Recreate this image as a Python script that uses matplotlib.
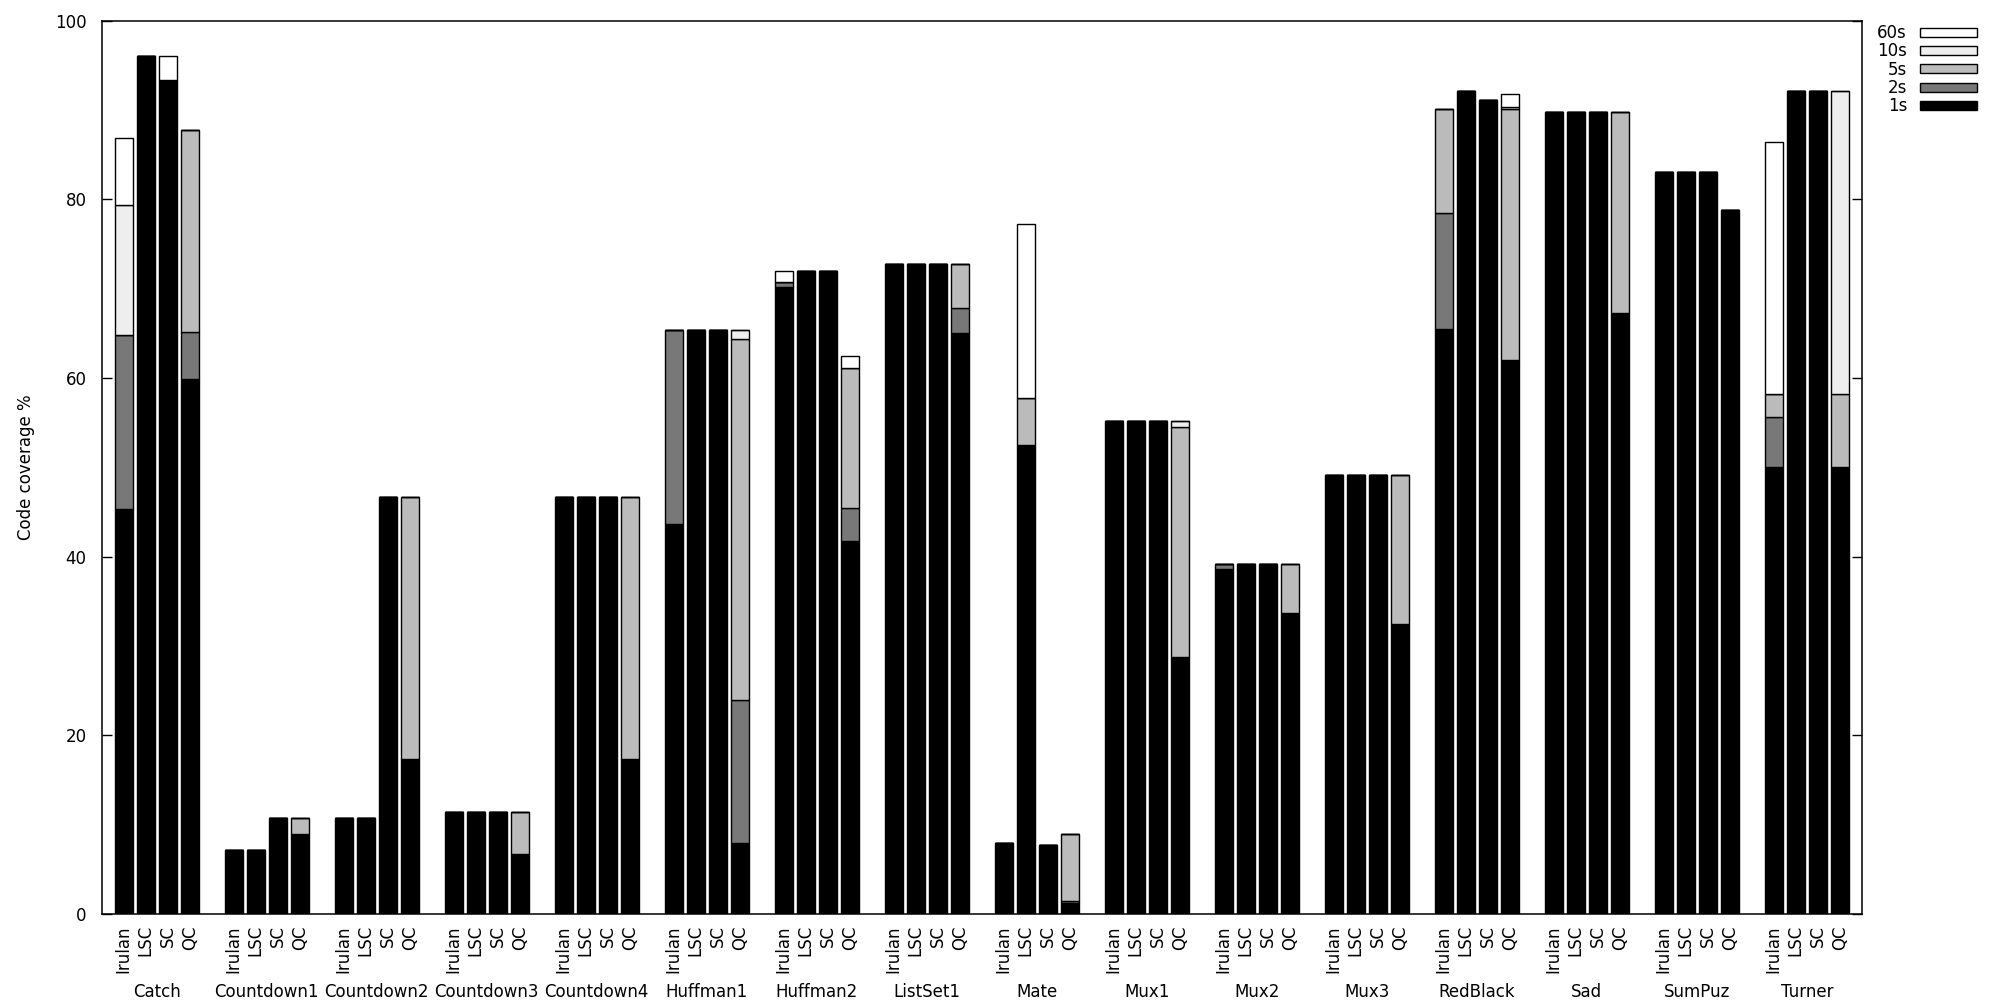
import numpy as np
import matplotlib

matplotlib.use("Agg")
import matplotlib.pyplot as plt
from matplotlib.transforms import blended_transform_factory

# Benchmarks and tools
groups = ["Catch", "Countdown1", "Countdown2", "Countdown3", "Countdown4",
          "Huffman1", "Huffman2", "ListSet1", "Mate", "Mux1", "Mux2", "Mux3",
          "RedBlack", "Sad", "SumPuz", "Turner"]
tools = ["Irulan", "LSC", "SC", "QC"]
limits = ["1s", "2s", "5s", "10s", "60s"]

# Coverage (%) reached within each time limit; one row per benchmark,
# columns in the order of `tools`
cov_1s = [
    [45.3, 96.0, 93.3, 59.9],
    [7.2, 7.2, 10.8, 8.9],
    [10.8, 10.8, 46.7, 17.3],
    [11.4, 11.4, 11.4, 6.7],
    [46.7, 46.7, 46.7, 17.3],
    [43.6, 65.4, 65.4, 8.0],
    [70.2, 72.0, 72.0, 41.7],
    [72.8, 72.8, 72.8, 65.0],
    [7.9, 52.5, 7.7, 1.2],
    [55.2, 55.2, 55.2, 28.8],
    [38.6, 39.2, 39.2, 33.7],
    [49.1, 49.1, 49.1, 32.5],
    [65.5, 92.1, 91.1, 62.0],
    [89.8, 89.8, 89.8, 67.3],
    [83.0, 83.0, 83.0, 78.8],
    [50.0, 92.1, 92.1, 50.0],
]
cov_2s = [
    [64.8, 96.0, 93.3, 65.1],
    [7.2, 7.2, 10.8, 8.9],
    [10.8, 10.8, 46.7, 17.3],
    [11.4, 11.4, 11.4, 6.7],
    [46.7, 46.7, 46.7, 17.3],
    [65.4, 65.4, 65.4, 24.0],
    [70.7, 72.0, 72.0, 45.4],
    [72.8, 72.8, 72.8, 67.8],
    [7.9, 52.5, 7.7, 1.5],
    [55.2, 55.2, 55.2, 28.8],
    [39.2, 39.2, 39.2, 33.7],
    [49.1, 49.1, 49.1, 32.5],
    [78.4, 92.1, 91.1, 62.0],
    [89.8, 89.8, 89.8, 67.3],
    [83.0, 83.0, 83.0, 78.8],
    [55.6, 92.1, 92.1, 50.0],
]
cov_5s = [
    [64.8, 96.0, 93.3, 87.7],
    [7.2, 7.2, 10.8, 10.8],
    [10.8, 10.8, 46.7, 46.7],
    [11.4, 11.4, 11.4, 11.4],
    [46.7, 46.7, 46.7, 46.7],
    [65.4, 65.4, 65.4, 64.4],
    [70.7, 72.0, 72.0, 61.1],
    [72.8, 72.8, 72.8, 72.8],
    [7.9, 57.7, 7.7, 8.9],
    [55.2, 55.2, 55.2, 54.5],
    [39.2, 39.2, 39.2, 39.2],
    [49.1, 49.1, 49.1, 49.1],
    [90.1, 92.1, 91.1, 90.1],
    [89.8, 89.8, 89.8, 89.8],
    [83.0, 83.0, 83.0, 78.8],
    [58.2, 92.1, 92.1, 58.2],
]
cov_10s = [
    [79.3, 96.0, 93.3, 87.7],
    [7.2, 7.2, 10.8, 10.8],
    [10.8, 10.8, 46.7, 46.7],
    [11.4, 11.4, 11.4, 11.4],
    [46.7, 46.7, 46.7, 46.7],
    [65.4, 65.4, 65.4, 65.4],
    [70.7, 72.0, 72.0, 61.1],
    [72.8, 72.8, 72.8, 72.8],
    [7.9, 57.7, 7.7, 8.9],
    [55.2, 55.2, 55.2, 55.2],
    [39.2, 39.2, 39.2, 39.2],
    [49.1, 49.1, 49.1, 49.1],
    [90.1, 92.1, 91.1, 90.3],
    [89.8, 89.8, 89.8, 89.8],
    [83.0, 83.0, 83.0, 78.8],
    [58.2, 92.1, 92.1, 92.1],
]
cov_60s = [
    [86.8, 96.0, 96.0, 87.7],
    [7.2, 7.2, 10.8, 10.8],
    [10.8, 10.8, 46.7, 46.7],
    [11.4, 11.4, 11.4, 11.4],
    [46.7, 46.7, 46.7, 46.7],
    [65.4, 65.4, 65.4, 65.4],
    [72.0, 72.0, 72.0, 62.4],
    [72.8, 72.8, 72.8, 72.8],
    [7.9, 77.2, 7.7, 8.9],
    [55.2, 55.2, 55.2, 55.2],
    [39.2, 39.2, 39.2, 39.2],
    [49.1, 49.1, 49.1, 49.1],
    [90.1, 92.1, 91.1, 91.8],
    [89.8, 89.8, 89.8, 89.8],
    [83.0, 83.0, 83.0, 78.8],
    [86.4, 92.1, 92.1, 92.1],
]

colors = ["#000000", "#787878", "#bbbbbb", "#eeeeee", "#ffffff"]

plt.rcParams["font.family"] = "DejaVu Sans"
plt.rcParams["font.size"] = 12

fig = plt.figure(figsize=(20, 10), dpi=100)
ax = fig.add_axes([0.0509, 0.086, 0.880, 0.8935])

levels = np.array([cov_1s, cov_2s, cov_5s, cov_10s, cov_60s]).reshape(5, -1)
n_g, n_t = len(groups), len(tools)
x = (np.arange(n_g)[:, None] * (n_t + 1) + np.arange(n_t)[None, :]).ravel()

bottom = np.zeros(levels.shape[1])
for k, lab in enumerate(limits):
    h = levels[k] - bottom
    ax.bar(x, h, bottom=bottom, width=0.84, color=colors[k],
           edgecolor="black", linewidth=1.0, label=lab, zorder=2)
    bottom = levels[k].copy()

ax.set_xlim(-1, n_g * (n_t + 1) - 1)
ax.set_ylim(0, 100)
ax.set_yticks(np.arange(0, 101, 20))
ax.tick_params(axis="y", direction="in", length=7, width=1.0, right=True,
               labelsize=12, pad=11)
ax.set_xticks(x)
ax.set_xticklabels(tools * n_g, rotation=90, fontsize=12)
ax.tick_params(axis="x", length=0, pad=8)
for sp in ax.spines.values():
    sp.set_linewidth(1.1)

ax.set_ylabel("Code coverage %", fontsize=12, labelpad=14)

trans = blended_transform_factory(ax.transData, ax.transAxes)
for i, g in enumerate(groups):
    ax.text(i * (n_t + 1) + (n_t - 1) / 2, -0.0873, g, transform=trans,
            ha="center", va="center", fontsize=12)

handles, labels = ax.get_legend_handles_labels()
fig.legend(handles[::-1], labels[::-1], loc="upper right",
           bbox_to_anchor=(0.9885, 0.976), frameon=False, markerfirst=False,
           fontsize=12, handlelength=3.4, handleheight=0.45,
           handletextpad=0.8, labelspacing=0.02, borderpad=0,
           borderaxespad=0)

fig.savefig("out.png", dpi=100)
